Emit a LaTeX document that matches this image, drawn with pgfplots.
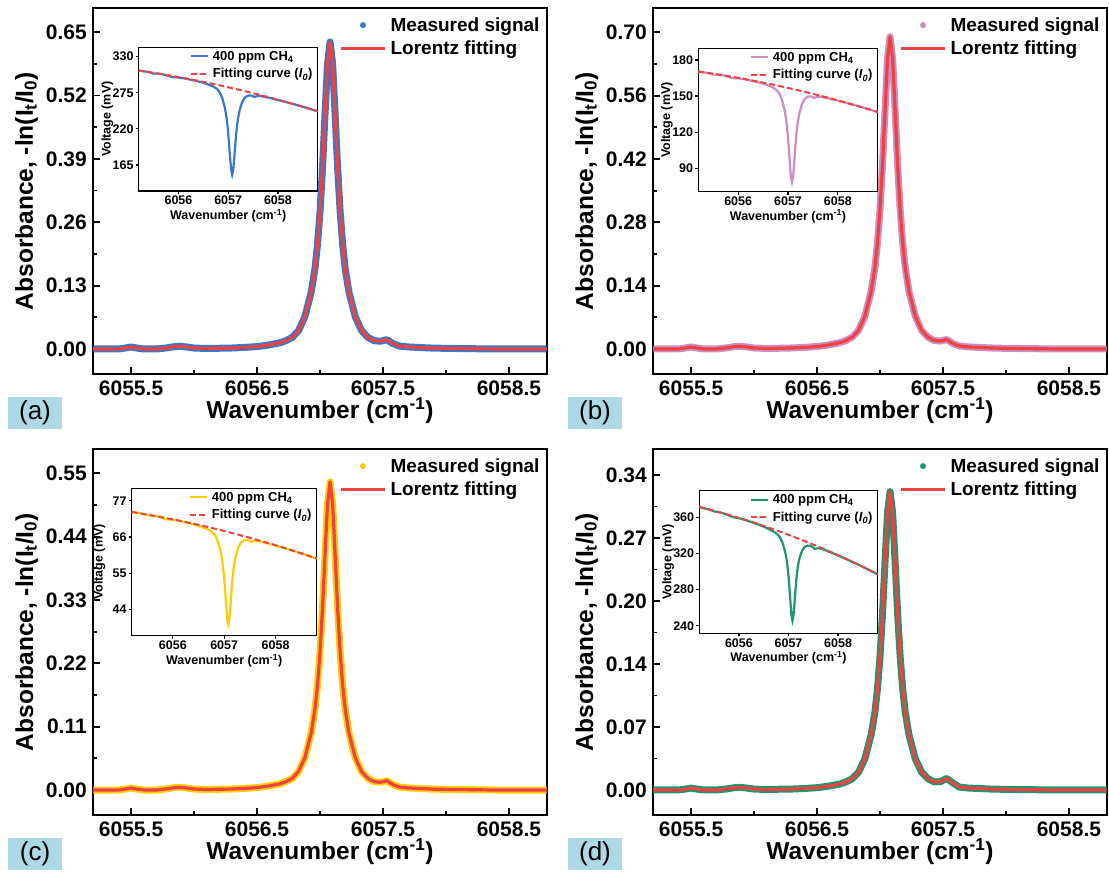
\documentclass[border=0pt]{standalone}
\usepackage{fontspec}
\setmainfont{Liberation Sans}
\usepackage{pgfplots}
\pgfplotsset{compat=1.18}
\usepackage{pgfplotstable}

\definecolor{cA}{RGB}{58,120,200}
\definecolor{cB}{RGB}{204,140,196}
\definecolor{cC}{RGB}{250,205,0}
\definecolor{cD}{RGB}{30,150,110}
\definecolor{cR}{RGB}{240,65,65}
\definecolor{lab}{RGB}{173,216,230}

\pgfplotstableread{
x a b c d
6055.20 0 0 0 0
6055.30 0 0 0 0
6055.40 0 0 0 0
6055.45 0.0018 0.0020 0.0015 0.0009
6055.50 0.0040 0.0044 0.0034 0.0020
6055.55 0.0018 0.0020 0.0015 0.0009
6055.60 0 0 0 0
6055.70 0 0 0 0
6055.78 0.0021 0.0023 0.0018 0.0011
6055.84 0.0046 0.0050 0.0039 0.0024
6055.88 0.0054 0.0059 0.0046 0.0028
6055.93 0.0045 0.0049 0.0038 0.0023
6056.00 0.0020 0.0022 0.0017 0.0010
6056.10 0.0010 0.0011 0.0008 0.0005
6056.20 0.0015 0.0016 0.0013 0.0008
6056.30 0.0020 0.0022 0.0017 0.0010
6056.40 0.0032 0.0035 0.0027 0.0016
6056.50 0.0049 0.0054 0.0042 0.0025
6056.58 0.0076 0.0083 0.0065 0.0039
6056.68 0.0126 0.0138 0.0107 0.0064
6056.73 0.0170 0.0186 0.0144 0.0087
6056.78 0.0239 0.0262 0.0203 0.0122
6056.83 0.0378 0.0414 0.0321 0.0193
6056.88 0.0662 0.0725 0.0562 0.0338
6056.93 0.1166 0.1277 0.0990 0.0596
6056.96 0.1651 0.1808 0.1402 0.0844
6056.98 0.2142 0.2346 0.1819 0.1095
6057.00 0.2816 0.3084 0.2391 0.1439
6057.02 0.3717 0.4071 0.3157 0.1900
6057.04 0.4820 0.5279 0.4093 0.2464
6057.06 0.5859 0.6417 0.4975 0.2995
6057.08 0.6300 0.6900 0.5350 0.3220
6057.10 0.5859 0.6417 0.4975 0.2995
6057.12 0.4820 0.5279 0.4093 0.2464
6057.14 0.3717 0.4071 0.3157 0.1900
6057.16 0.2816 0.3084 0.2391 0.1439
6057.18 0.2142 0.2346 0.1819 0.1095
6057.20 0.1651 0.1808 0.1402 0.0844
6057.23 0.1166 0.1277 0.0990 0.0596
6057.28 0.0662 0.0725 0.0562 0.0338
6057.33 0.0378 0.0414 0.0321 0.0193
6057.38 0.0239 0.0262 0.0203 0.0122
6057.43 0.0170 0.0186 0.0144 0.0087
6057.48 0.0159 0.0174 0.0135 0.0090
6057.53 0.0191 0.0209 0.0162 0.0125
6057.58 0.0109 0.0119 0.0093 0.0075
6057.63 0.0060 0.0066 0.0051 0.0031
6057.70 0.0042 0.0046 0.0036 0.0021
6057.80 0.0029 0.0032 0.0025 0.0015
6057.90 0.0018 0.0020 0.0015 0.0009
6058.00 0.0013 0.0014 0.0011 0.0007
6058.20 0.0006 0.0007 0.0005 0.0003
6058.40 0 0 0 0
6058.60 0 0 0 0
6058.80 0 0 0 0
}\absdata

\pgfplotstableread{
x Ia Ja Ib Jb Ic Jc Id Jd
6055.20 308.89 308.89 170.33 170.33 73.61 73.61 371.41 371.41
6055.30 307.76 307.76 169.74 169.74 73.35 73.35 370.04 370.04
6055.40 306.60 306.60 169.14 169.14 73.09 73.09 368.64 368.64
6055.45 305.46 306.01 168.49 168.83 72.85 72.96 367.59 367.92
6055.50 304.19 305.41 167.77 168.51 72.57 72.82 366.46 367.19
6055.55 304.25 304.80 167.85 168.19 72.57 72.68 366.12 366.45
6055.60 304.18 304.18 167.87 167.87 72.54 72.54 365.70 365.70
6055.70 302.91 302.91 167.21 167.21 72.26 72.26 364.17 364.17
6055.78 301.25 301.88 166.28 166.66 71.89 72.02 362.52 362.92
6055.84 299.70 301.09 165.41 166.24 71.57 71.85 361.10 361.97
6055.88 298.93 300.55 164.98 165.96 71.39 71.72 360.31 361.32
6055.93 298.53 299.88 164.79 165.60 71.30 71.57 359.68 360.51
6056.00 298.32 298.92 164.73 165.09 71.23 71.35 358.99 359.35
6056.10 297.22 297.52 164.17 164.35 70.98 71.04 357.48 357.66
6056.20 295.64 296.08 163.33 163.59 70.62 70.71 355.65 355.93
6056.30 294.03 294.62 162.44 162.80 70.26 70.38 353.81 354.16
6056.40 292.17 293.11 161.43 162.00 69.84 70.03 351.80 352.36
6056.50 290.15 291.58 160.30 161.17 69.40 69.69 349.63 350.51
6056.58 288.12 290.33 159.17 160.50 68.95 69.40 347.64 349.00
6056.68 285.12 288.73 157.45 159.64 68.31 69.04 344.87 347.08
6056.73 283.07 287.92 156.27 159.20 67.87 68.85 343.11 346.11
6056.78 280.32 287.10 154.65 158.76 67.28 68.66 340.93 345.12
6056.83 275.65 286.27 151.89 158.31 66.32 68.48 337.55 344.13
6056.88 267.15 285.43 146.82 157.86 64.55 68.28 331.71 343.12
6056.93 253.27 284.59 138.53 157.40 61.67 68.09 322.32 342.11
6056.96 240.85 284.08 131.14 157.13 59.09 67.98 313.85 341.49
6056.98 229.02 283.73 124.12 156.94 56.61 67.90 305.70 341.08
6057.00 213.84 283.39 115.15 156.75 53.40 67.82 295.01 340.67
6057.02 195.17 283.04 104.21 156.57 49.40 67.74 281.37 340.25
6057.04 174.58 282.70 92.24 156.38 44.93 67.66 265.62 339.84
6057.06 157.15 282.35 82.22 156.19 41.09 67.58 251.58 339.42
6057.08 150.19 282.00 78.25 156.00 39.53 67.50 245.67 339.00
6057.10 156.76 281.65 82.02 155.81 40.99 67.42 250.95 338.58
6057.12 173.71 281.30 91.79 155.62 44.72 67.34 264.31 338.16
6057.14 193.72 280.94 103.45 155.43 49.05 67.26 279.29 337.73
6057.16 211.73 280.59 114.04 155.23 52.89 67.18 292.10 337.31
6057.18 226.20 280.23 122.62 155.04 55.94 67.10 301.94 336.88
6057.20 237.29 279.88 129.24 154.85 58.24 67.01 309.22 336.45
6057.23 248.60 279.34 136.02 154.55 60.58 66.89 316.38 335.81
6057.28 260.59 278.43 143.29 154.06 63.04 66.68 323.59 334.72
6057.33 267.23 277.52 147.33 153.56 64.38 66.48 327.25 333.63
6057.38 270.07 276.60 149.10 153.06 64.93 66.26 328.49 332.52
6057.43 271.02 275.67 149.74 152.55 65.11 66.05 328.54 331.41
6057.48 270.40 274.73 149.42 152.04 64.96 65.84 327.32 330.28
6057.53 268.60 273.78 148.38 151.52 64.57 65.62 325.06 329.15
6057.58 269.87 272.83 149.21 151.00 64.79 65.40 325.55 328.00
6057.63 270.23 271.86 149.48 150.47 64.85 65.18 325.84 326.85
6057.70 269.36 270.50 149.04 149.73 64.64 64.87 324.53 325.21
6057.80 267.74 268.52 148.16 148.64 64.25 64.41 322.36 322.84
6057.90 266.03 266.51 147.24 147.54 63.85 63.95 320.15 320.44
6058.00 264.12 264.46 146.21 146.41 63.41 63.48 317.77 317.99
6058.20 260.11 260.27 144.01 144.11 62.49 62.52 312.88 312.97
6058.40 255.94 255.94 141.72 141.72 61.52 61.52 307.80 307.80
6058.60 251.47 251.47 139.25 139.25 60.50 60.50 302.46 302.46
6058.80 246.87 246.87 136.70 136.70 59.44 59.44 296.96 296.96
}\insdata

\pgfplotsset{
  mainax/.style={
    scale only axis, width=453.4pt, height=365.7pt, anchor=south west,
    xmin=6055.2, xmax=6058.8,
    xtick={6055.5,6056.5,6057.5,6058.5},
    xticklabels={6055.5,6056.5,6057.5,6058.5},
    minor xtick={6056,6057,6058},
    tick align=inside, tick pos=left,
    major tick length=7pt, minor tick length=4pt,
    tick style={black, line width=1.8pt},
    axis line style={line width=2.2pt},
    /pgf/number format/assume math mode=true,
    ticklabel style={font=\bfseries\fontsize{21}{24}\selectfont},
    xticklabel style={yshift=-3pt},
    yticklabel style={xshift=-3pt},
    xlabel={Wavenumber (cm\textsuperscript{-1})},
    ylabel={Absorbance, -ln(I\textsubscript{t}/I\textsubscript{0})},
    label style={font=\bfseries\fontsize{24.5}{28}\selectfont},
    xlabel style={at={(axis description cs:0.5,-0.123)}, anchor=base},
    ylabel style={at={(axis description cs:-0.1330,0.5)}, anchor=base},
    legend cell align=left,
    legend style={draw=none, fill=none, at={(1,1)}, anchor=north east,
      xshift=-3pt, yshift=-7pt, font=\bfseries\fontsize{19}{22}\selectfont,
      inner sep=0pt, row sep=4pt, nodes={inner sep=2pt, inner xsep=4pt}},
  },
  inax/.style={
    scale only axis, anchor=south west,
    xmin=6055.2, xmax=6058.8,
    xtick={6056,6057,6058}, xticklabels={6056,6057,6058},
    tick align=outside, tick pos=left, major tick length=3pt,
    tick style={black, line width=1.2pt},
    axis line style={line width=1.5pt},
    axis background/.style={fill=white},
    /pgf/number format/assume math mode=true,
    ticklabel style={font=\bfseries\fontsize{12.5}{14}\selectfont, inner sep=2pt},
    xlabel={Wavenumber (cm\textsuperscript{-1})}, ylabel={Voltage (mV)},
    label style={font=\bfseries\fontsize{12.5}{14}\selectfont},
    xlabel style={at={(axis description cs:0.5,-0.198)}, anchor=base},
    ylabel style={at={(axis description cs:-0.157,0.5)}, anchor=base},
    legend cell align=left,
    legend style={draw=none, fill=none, at={(1,1)}, anchor=north east,
      xshift=-1pt, yshift=-2pt, font=\bfseries\fontsize{13}{15}\selectfont,
      inner sep=0pt, row sep=4pt, nodes={inner sep=1.5pt, inner xsep=4pt}},
  },
}

\newcommand\mainlegend[1]{%
  \addlegendimage{draw=none, legend image code/.code={\path[draw=none] (0pt,0pt) -- (44pt,0pt); \fill[#1, draw=none] (22pt,0pt) circle (3pt);}}
  \addlegendentry{Measured signal}
  \addlegendimage{legend image code/.code={\draw[cR, line width=3.2pt] (0pt,0pt) -- (44pt,0pt);}}
  \addlegendentry{Lorentz fitting}}
\newcommand\inlegend[1]{%
  \addlegendimage{legend image code/.code={\draw[#1, line width=2.2pt] (0pt,0pt) -- (17pt,0pt);}}
  \addlegendentry{400 ppm CH\textsubscript{4}}
  \addlegendimage{legend image code/.code={\draw[cR, line width=2pt, dash pattern=on 6pt off 3pt] (0pt,0pt) -- (17pt,0pt);}}
  \addlegendentry{Fitting curve (\textit{I}\textsubscript{\textit{0}})}}

\begin{document}
\begin{tikzpicture}[x=1pt,y=1pt]
\path[use as bounding box] (0,0) rectangle (1109,872);

% ---------- (a)
\begin{axis}[mainax, at={(93.3pt,498pt)}, ymin=-0.0513, ymax=0.699,
  ytick={0,0.13,0.26,0.39,0.52,0.65}, yticklabels={0.00,0.13,0.26,0.39,0.52,0.65},
  minor ytick={0.065,0.195,0.325,0.455,0.585}]
\addplot[cA, line width=7pt, line join=round, forget plot] table[x=x,y=a]{\absdata};
\addplot[cR, line width=3.2pt, line join=round, forget plot] table[x=x,y=a]{\absdata};
\mainlegend{cA}
\end{axis}
\begin{axis}[inax, at={(138.7pt,681pt)}, width=179pt, height=143.7pt,
  ymin=125.4, ymax=344.3, ytick={165,220,275,330}, yticklabels={165,220,275,330}]
\addplot[cA, line width=2.2pt, forget plot] table[x=x,y=Ia]{\insdata};
\addplot[cR, line width=2pt, dash pattern=on 6pt off 3pt, forget plot] table[x=x,y=Ja]{\insdata};
\inlegend{cA}
\end{axis}

% ---------- (b)
\begin{axis}[mainax, at={(653.3pt,498pt)}, ymin=-0.0553, ymax=0.753,
  ytick={0,0.14,0.28,0.42,0.56,0.70}, yticklabels={0.00,0.14,0.28,0.42,0.56,0.70},
  minor ytick={0.07,0.21,0.35,0.49,0.63}]
\addplot[cB, line width=7pt, line join=round, forget plot] table[x=x,y=b]{\absdata};
\addplot[cR, line width=3.2pt, line join=round, forget plot] table[x=x,y=b]{\absdata};
\mainlegend{cB}
\end{axis}
\begin{axis}[inax, at={(698.3pt,680.3pt)}, width=179.4pt, height=143.4pt,
  ymin=70.5, ymax=189.7, ytick={90,120,150,180}, yticklabels={90,120,150,180}]
\addplot[cB, line width=2.2pt, forget plot] table[x=x,y=Ib]{\insdata};
\addplot[cR, line width=2pt, dash pattern=on 6pt off 3pt, forget plot] table[x=x,y=Jb]{\insdata};
\inlegend{cB}
\end{axis}

% ---------- (c)
\begin{axis}[mainax, at={(93.3pt,57pt)}, ymin=-0.0434, ymax=0.5917,
  ytick={0,0.11,0.22,0.33,0.44,0.55}, yticklabels={0.00,0.11,0.22,0.33,0.44,0.55},
  minor ytick={0.055,0.165,0.275,0.385,0.495}]
\addplot[cC, line width=7pt, line join=round, forget plot] table[x=x,y=c]{\absdata};
\addplot[cR, line width=3.2pt, line join=round, forget plot] table[x=x,y=c]{\absdata};
\mainlegend{cC}
\end{axis}
\begin{axis}[inax, at={(131.7pt,236.3pt)}, width=185pt, height=147.4pt,
  ymin=36, ymax=80.8, ytick={44,55,66,77}, yticklabels={44,55,66,77}]
\addplot[cC, line width=2.2pt, forget plot] table[x=x,y=Ic]{\insdata};
\addplot[cR, line width=2pt, dash pattern=on 6pt off 3pt, forget plot] table[x=x,y=Jc]{\insdata};
\inlegend{cC}
\end{axis}

% ---------- (d)
\begin{axis}[mainax, at={(653.3pt,57pt)}, ymin=-0.027, ymax=0.3677,
  ytick={0,0.068,0.136,0.204,0.272,0.34}, yticklabels={0.00,0.07,0.14,0.20,0.27,0.34},
  minor ytick={0.034,0.102,0.17,0.238,0.306}]
\addplot[cD, line width=7pt, line join=round, forget plot] table[x=x,y=d]{\absdata};
\addplot[cR, line width=3.2pt, line join=round, forget plot] table[x=x,y=d]{\absdata};
\mainlegend{cD}
\end{axis}
\begin{axis}[inax, at={(699.3pt,238.7pt)}, width=178.4pt, height=142.6pt,
  ymin=231.6, ymax=389.5, ytick={240,280,320,360}, yticklabels={240,280,320,360}]
\addplot[cD, line width=2.2pt, forget plot] table[x=x,y=Id]{\insdata};
\addplot[cR, line width=2pt, dash pattern=on 6pt off 3pt, forget plot] table[x=x,y=Jd]{\insdata};
\inlegend{cD}
\end{axis}

% ---------- panel labels
\foreach \lx/\ly/\lt in {35/459/(a), 595/459/(b), 35/18/(c), 595/18/(d)}
  \node[fill=lab, minimum width=54pt, minimum height=32pt, inner sep=0pt,
        font=\fontsize{26}{30}\selectfont] at (\lx,\ly) {\lt};
\end{tikzpicture}
\end{document}
